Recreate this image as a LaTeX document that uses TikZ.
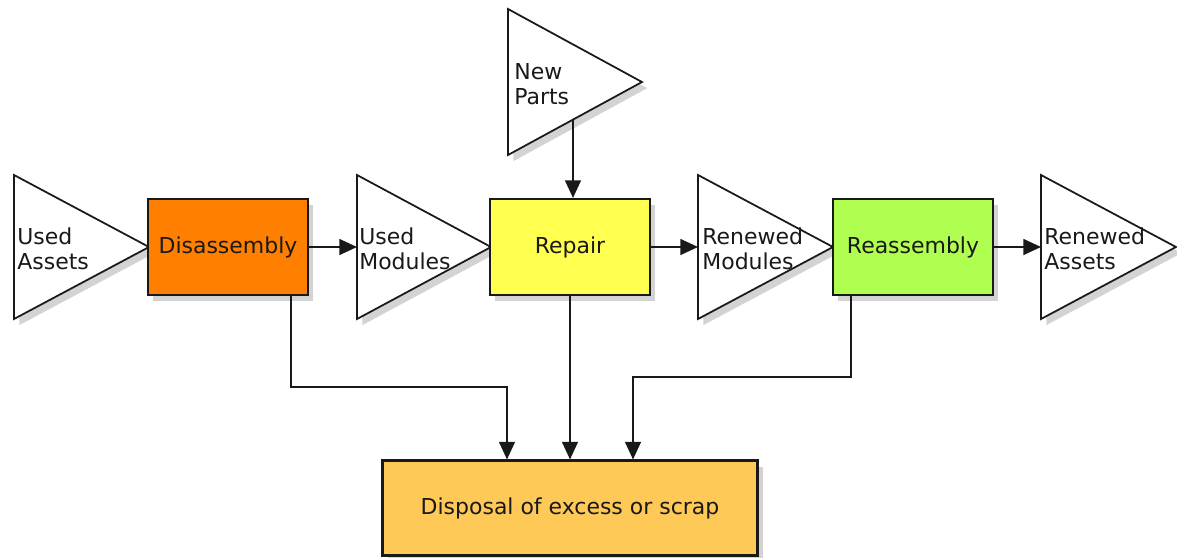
\documentclass[tikz,border=0pt]{standalone}
\usepackage{fontspec}
\setmainfont{DejaVu Sans}
\usetikzlibrary{arrows.meta,positioning,shadows}

\definecolor{disorange}{RGB}{255,128,0}
\definecolor{repyellow}{RGB}{255,255,80}
\definecolor{reagreen}{RGB}{176,255,80}
\definecolor{scrapgold}{RGB}{255,201,87}

\begin{document}
\begin{tikzpicture}[x=0.02cm, y=-0.02cm, line join=miter,
  font=\fontsize{12.5}{14.5}\selectfont,
  shade/.style={drop shadow={shadow xshift=3pt, shadow yshift=-3.5pt, opacity=0.35}},
  proc/.style={draw=black!90, line width=1.2pt, minimum width=3.2cm, minimum height=1.92cm, inner sep=0pt, text=black!90, shade},
  tri/.style={draw=black!90, line width=1pt, fill=white, shade},
  txt/.style={anchor=west, align=left, inner sep=0pt, text=black!90},
  flow/.style={-{Triangle[length=10pt, width=9pt]}, line width=1pt, black!90}]
\useasboundingbox (0,0) rectangle (1177,558);

% inputs and outputs
\coordinate (uaw) at (14,247);  \coordinate (uae) at (149,247);
\coordinate (umw) at (357,247); \coordinate (ume) at (491,247);
\coordinate (rmw) at (698,247); \coordinate (rme) at (833,247);
\coordinate (raw) at (1041,247);\coordinate (rae) at (1176,247);
\coordinate (npw) at (508,82);  \coordinate (npe) at (642,82);
\coordinate (npout) at (573,119);

\draw[tri] (14,175) -- (uae) -- (14,319) -- cycle;
\draw[tri] (357,175) -- (ume) -- (357,319) -- cycle;
\draw[tri] (698,175) -- (rme) -- (698,319) -- cycle;
\draw[tri] (1041,175) -- (rae) -- (1041,319) -- cycle;
\draw[tri] (508,9) -- (npe) -- (508,155) -- cycle;

\node[txt] (uatxt) at (17,249) {Used\\Assets};
\node[txt] (umtxt) at (359,249) {Used\\Modules};
\node[txt] (rmtxt) at (702,249) {Renewed\\Modules};
\node[txt] (ratxt) at (1044,249) {Renewed\\Assets};
\node[txt] (nptxt) at (514,84) {New\\Parts};

% processes
\node[proc, fill=disorange] (dis) at (228,247) {Disassembly};
\node[proc, fill=repyellow] (rep) at (570,247) {Repair};
\node[proc, fill=reagreen] (rea) at (913,247) {Reassembly};
\node[proc, fill=scrapgold, minimum width=7.5cm, minimum height=1.9cm] (scrap) at (570,508) {Disposal of excess or scrap};

% flows
\draw[flow] (dis.east) -- (umw);
\draw[flow] (rep.east) -- (rmw);
\draw[flow] (rea.east) -- (raw);
\draw[flow] (npout) -- (npout |- rep.north);
\draw[flow] (dis.south -| 291,0) |- (507,387) -- (507,0 |- scrap.north);
\draw[flow] (rep.south) -- (rep.south |- scrap.north);
\draw[flow] (rea.south -| 851,0) |- (633,377) -- (633,0 |- scrap.north);
\end{tikzpicture}
\end{document}
